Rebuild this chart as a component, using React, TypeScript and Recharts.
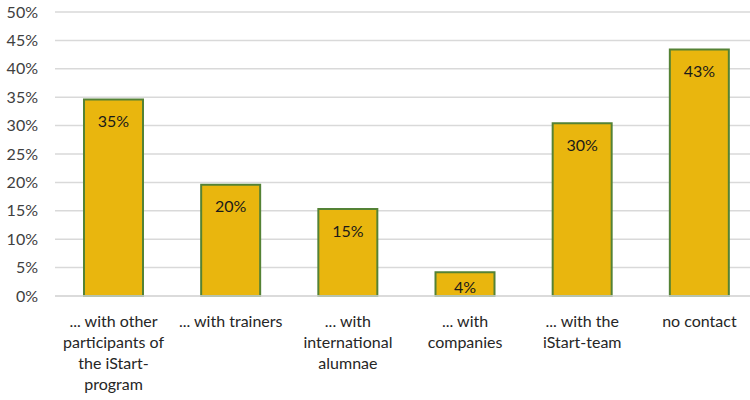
import React from "react";
import { BarChart, Bar, XAxis, YAxis, CartesianGrid, LabelList } from "recharts";

const categories = [
  "... with other\nparticipants of\nthe iStart-\nprogram",
  "... with trainers",
  "... with\ninternational\nalumnae",
  "... with\ncompanies",
  "... with the\niStart-team",
  "no contact",
];
const shares = [34.6, 19.6, 15.3, 4.2, 30.4, 43.4];
const yTicks = [0, 5, 10, 15, 20, 25, 30, 35, 40, 45, 50];

const data = categories.map((c, i) => ({ name: c, value: shares[i] }));

const FONT = "Lato, 'Noto Sans', sans-serif";

const CategoryTick = (props: any) => {
  const { x, y, payload } = props;
  const lines = String(payload.value).split("\n");
  return (
    <text x={x} y={y + 31} textAnchor="middle" fill="#262626" fontSize={16} fontFamily={FONT}>
      {lines.map((l, i) => (
        <tspan key={i} x={x} dy={i === 0 ? 0 : 21}>
          {l}
        </tspan>
      ))}
    </text>
  );
};

const ValueLabel = (props: any) => {
  const { x, y, width, height, value } = props;
  const cy = height > 40 ? y + 21 : y + height / 2 + 2;
  return (
    <text
      x={x + width / 2}
      y={cy}
      textAnchor="middle"
      dominantBaseline="central"
      fill="#1a1a1a"
      fontSize={16}
      fontFamily={FONT}
    >
      {`${Math.round(value)}%`}
    </text>
  );
};

export default function App() {
  return (
    <div style={{ position: "absolute", left: 0, top: 0, width: 750, height: 400, overflow: "hidden", background: "#fff" }}>
      <BarChart width={758} height={400} data={data} margin={{ top: 12, right: 0, bottom: 0, left: 0 }}>
        <CartesianGrid vertical={false} stroke="#d9d9d9" strokeWidth={1.5} />
        <XAxis
          dataKey="name"
          interval={0}
          tickLine={false}
          tickSize={0}
          tickMargin={0}
          axisLine={{ stroke: "#d9d9d9", strokeWidth: 1.5 }}
          height={104}
          tick={<CategoryTick />}
        />
        <YAxis
          width={55}
          domain={[0, 50]}
          ticks={yTicks}
          tickFormatter={(v: number) => `${v}%`}
          axisLine={false}
          tickLine={false}
          tickSize={0}
          tickMargin={17}
          tick={{ fill: "#404040", fontSize: 16, fontFamily: FONT }}
        />
        <Bar dataKey="value" fill="#E9B60E" stroke="#548235" strokeWidth={2} barSize={59} isAnimationActive={false}>
          <LabelList dataKey="value" content={<ValueLabel />} />
        </Bar>
      </BarChart>
    </div>
  );
}
